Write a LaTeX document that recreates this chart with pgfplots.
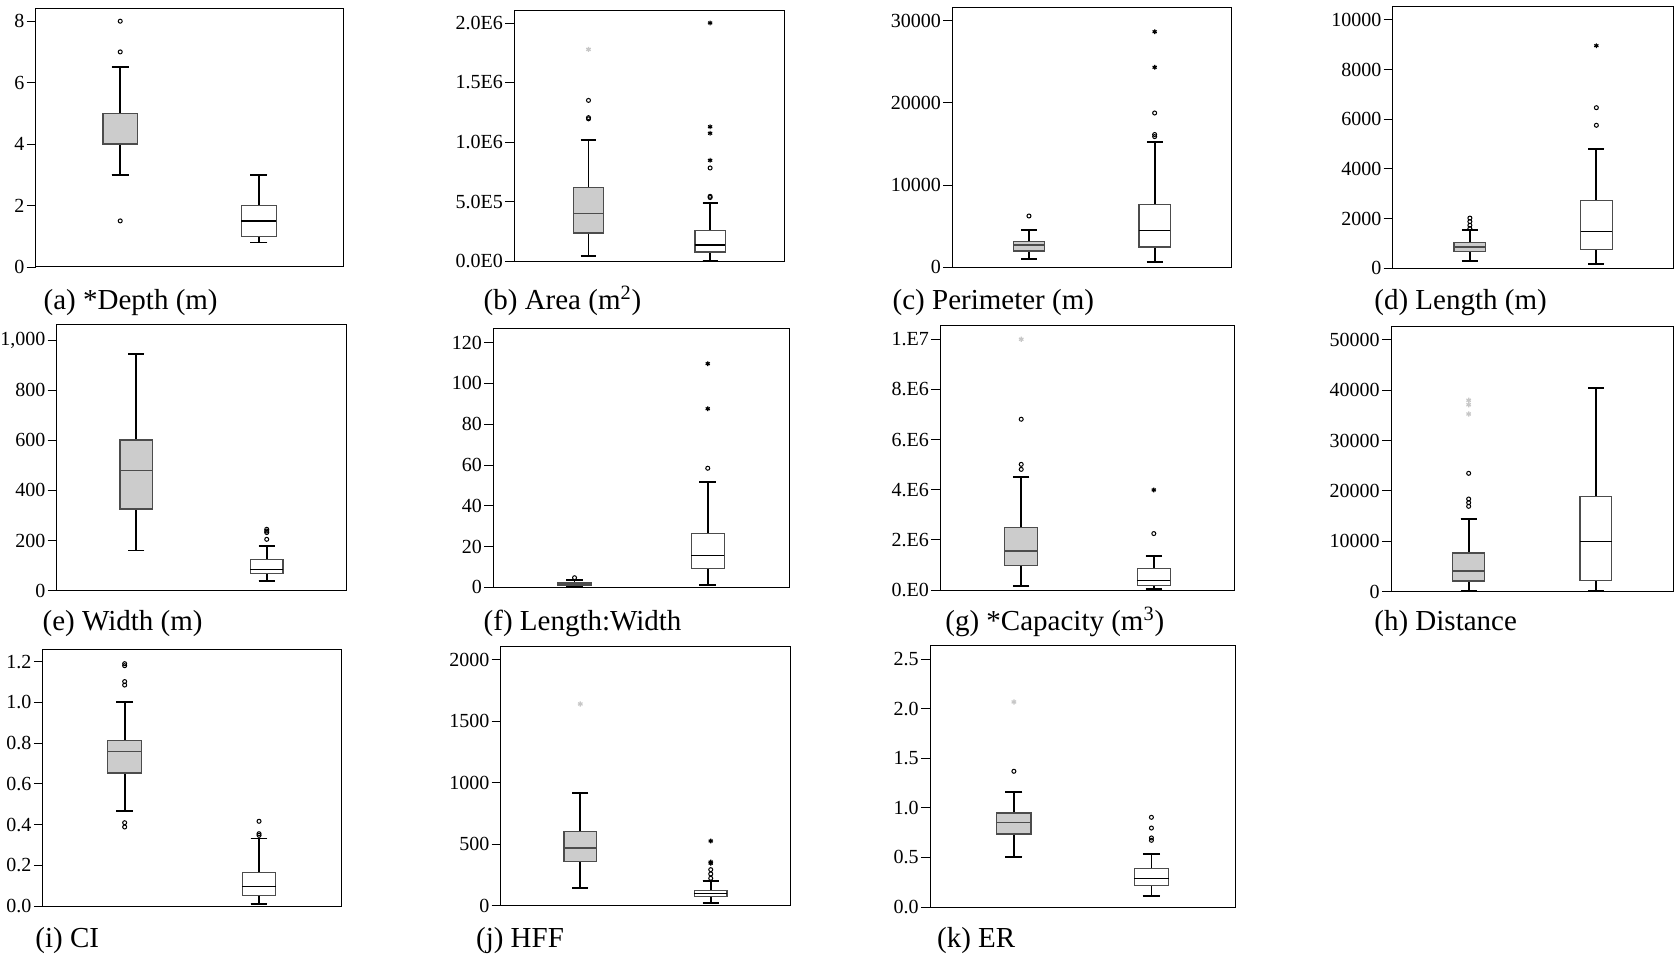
\documentclass[border=0pt]{standalone}
\usepackage{fontspec}
\setmainfont{Liberation Serif}
\usepackage{pgfplots}
\pgfplotsset{compat=1.18}
\usepgfplotslibrary{statistics}
\definecolor{boxgray}{gray}{0.8}
\definecolor{edgegray}{gray}{0.3}
\definecolor{lightstar}{gray}{0.78}
\pgfplotsset{
  bp/.style={
    scale only axis, anchor=south west, disabledatascaling,
    xmin=0.39, xmax=2.61, ymin=0,
    xtick=\empty, scaled y ticks=false,
    axis line style={line width=0.5pt},
    ytick pos=left, tick align=outside, major tick length=4.5pt,
    ytick style={line width=0.4pt, black},
    yticklabel style={font=\fontsize{10}{11}\selectfont, inner sep=1pt},
    boxplot/draw direction=y,
    boxplot/box extend=0.25, boxplot/whisker extend=0.125,
  },
  g1/.style={draw=edgegray, fill=boxgray, line width=0.6pt,
    boxplot/every whisker/.style={black, line width=0.9pt},
    boxplot/every median/.style={edgegray, line width=0.8pt},
    boxplot prepared={draw position=1, #1}},
  g2/.style={draw=edgegray, fill=white, line width=0.6pt,
    boxplot/every whisker/.style={black, line width=0.9pt},
    boxplot/every median/.style={black, line width=0.6pt},
    boxplot prepared={draw position=2, #1}},
  circ/.style={only marks, mark=o, mark size=1pt, black, mark options={line width=0.5pt}},
  star/.style={only marks, mark=asterisk, mark size=1.2pt, black, mark options={line width=0.6pt}},
  gstar/.style={only marks, mark=asterisk, mark size=1.3pt, lightstar, mark options={line width=0.6pt}},
}
\tikzset{plab/.style={anchor=base west, inner sep=0pt, font=\fontsize{14.5}{16}\selectfont}}
\begin{document}
\begin{tikzpicture}
\useasboundingbox (0,0) rectangle (837pt,479.5pt);

% (a)
\begin{axis}[bp, at={(17.85pt,346pt)}, width=153.8pt, height=129.35pt, ymax=8.42,
  ytick={0,2,4,6,8}, yticklabels={0,2,4,6,8}]
\addplot[g1={lower whisker=3, lower quartile=4, median=4, upper quartile=5, upper whisker=6.5}] coordinates {};
\addplot[g2={lower whisker=0.8, lower quartile=1, median=1.5, upper quartile=2, upper whisker=3}] coordinates {};
\addplot[circ] coordinates {(1,8) (1,7) (1,1.5)};
\end{axis}
\node[plab] at (21.65pt,324.5pt) {(a) *Depth (m)};

% (b)  values in millions of m^2
\begin{axis}[bp, at={(257.15pt,348.85pt)}, width=135pt, height=125.5pt, ymax=2.106,
  ytick={0,0.5,1,1.5,2}, yticklabels={0.0E0,5.0E5,1.0E6,1.5E6,2.0E6}]
\addplot[g1={lower whisker=0.047, lower quartile=0.237, median=0.400, upper quartile=0.618, upper whisker=1.018}] coordinates {};
\addplot[g2={lower whisker=0.005, lower quartile=0.078, median=0.137, upper quartile=0.257, upper whisker=0.487}] coordinates {};
\addplot[circ] coordinates {(1,1.350) (1,1.205) (1,1.195) (2,0.535) (2,0.545) (2,0.783)};
\addplot[star] coordinates {(2,0.847) (2,1.074) (2,1.129) (2,2.000)};
\addplot[gstar] coordinates {(1,1.778)};
\end{axis}
\node[plab] at (241.65pt,324.5pt) {(b) Area (m\textsuperscript{2})};

% (c)  values in thousands of m
\begin{axis}[bp, at={(476.15pt,345.85pt)}, width=139.5pt, height=130pt, ymax=31.63,
  ytick={0,10,20,30}, yticklabels={0,10000,20000,30000}]
\addplot[g1={lower whisker=0.970, lower quartile=1.980, median=2.680, upper quartile=3.110, upper whisker=4.570}] coordinates {};
\addplot[g2={lower whisker=0.680, lower quartile=2.470, median=4.500, upper quartile=7.660, upper whisker=15.240}] coordinates {};
\addplot[circ] coordinates {(1,6.240) (2,15.900) (2,16.150) (2,18.770)};
\addplot[star] coordinates {(2,24.330) (2,28.660)};
\end{axis}
\node[plab] at (446.15pt,324.5pt) {(c) Perimeter (m)};

% (d)  values in thousands of m
\begin{axis}[bp, at={(696.35pt,345.35pt)}, width=140.4pt, height=130.8pt, ymax=10.527,
  ytick={0,2,4,6,8,10}, yticklabels={0,2000,4000,6000,8000,10000}]
\addplot[g1={lower whisker=0.306, lower quartile=0.684, median=0.857, upper quartile=1.030, upper whisker=1.529}] coordinates {};
\addplot[g2={lower whisker=0.173, lower quartile=0.765, median=1.489, upper quartile=2.736, upper whisker=4.801}] coordinates {};
\addplot[circ] coordinates {(1,1.600) (1,1.730) (1,1.880) (1,2.020) (2,5.755) (2,6.463)};
\addplot[star] coordinates {(2,8.958)};
\end{axis}
\node[plab] at (687pt,324.5pt) {(d) Length (m)};

% (e)  values in hundreds of m
\begin{axis}[bp, at={(28.35pt,184.15pt)}, width=144.8pt, height=132.85pt, ymax=10.60,
  ytick={0,2,4,6,8,10}, yticklabels={0,200,400,600,800,{1,000}}]
\addplot[g1={lower whisker=1.60, lower quartile=3.26, median=4.79, upper quartile=6.01, upper whisker=9.45}] coordinates {};
\addplot[g2={lower whisker=0.39, lower quartile=0.69, median=0.83, upper quartile=1.24, upper whisker=1.78}] coordinates {};
\addplot[circ] coordinates {(2,2.05) (2,2.32) (2,2.38) (2,2.45)};
\end{axis}
\node[plab] at (21.15pt,164.25pt) {(e) Width (m)};

% (f)
\begin{axis}[bp, at={(246.65pt,185.85pt)}, width=147.85pt, height=129.15pt, ymax=126.7,
  ytick={0,20,40,60,80,100,120}, yticklabels={0,20,40,60,80,100,120}]
\addplot[g1={lower whisker=0.6, lower quartile=1.0, median=1.6, upper quartile=2.3, upper whisker=3.6}] coordinates {};
\addplot[g2={lower whisker=1.1, lower quartile=9.3, median=15.5, upper quartile=26.3, upper whisker=51.7}] coordinates {};
\addplot[circ] coordinates {(1,4.7) (2,58.4)};
\addplot[star] coordinates {(2,87.6) (2,109.7)};
\end{axis}
\node[plab] at (241.65pt,164.25pt) {(f) Length:Width};

% (g)  values in millions of m^3
\begin{axis}[bp, at={(470.15pt,184.5pt)}, width=147.2pt, height=132.15pt, ymax=10.54,
  ytick={0,2,4,6,8,10}, yticklabels={0.E0,2.E6,4.E6,6.E6,8.E6,1.E7}]
\addplot[g1={lower whisker=0.148, lower quartile=0.985, median=1.556, upper quartile=2.490, upper whisker=4.500}] coordinates {};
\addplot[g2={lower whisker=0.030, lower quartile=0.190, median=0.370, upper quartile=0.866, upper whisker=1.340}] coordinates {};
\addplot[circ] coordinates {(1,4.810) (1,5.010) (1,6.810) (2,2.250)};
\addplot[star] coordinates {(2,3.990)};
\addplot[gstar] coordinates {(1,10.000)};
\end{axis}
\node[plab] at (472.5pt,164.25pt) {(g) *Capacity (m\textsuperscript{3})};

% (h)  values in thousands
\begin{axis}[bp, at={(695.5pt,183.65pt)}, width=141.3pt, height=132.5pt, ymax=52.58,
  ytick={0,10,20,30,40,50}, yticklabels={0,10000,20000,30000,40000,50000}]
\addplot[g1={lower whisker=0.100, lower quartile=2.120, median=4.050, upper quartile=7.680, upper whisker=14.480}] coordinates {};
\addplot[g2={lower whisker=0.200, lower quartile=2.180, median=10.000, upper quartile=18.920, upper whisker=40.380}] coordinates {};
\addplot[circ] coordinates {(1,16.940) (1,17.660) (1,18.390) (1,23.490)};
\addplot[gstar] coordinates {(1,35.260) (1,37.100) (1,37.980)};
\end{axis}
\node[plab] at (687pt,164.25pt) {(h) Distance};

% (i)
\begin{axis}[bp, at={(21.35pt,26.5pt)}, width=149.15pt, height=128.5pt, ymax=1.262,
  ytick={0,0.2,0.4,0.6,0.8,1.0,1.2}, yticklabels={0.0,0.2,0.4,0.6,0.8,1.0,1.2}]
\addplot[g1={lower whisker=0.467, lower quartile=0.653, median=0.758, upper quartile=0.812, upper whisker=1.0}] coordinates {};
\addplot[g2={lower whisker=0.011, lower quartile=0.053, median=0.097, upper quartile=0.164, upper whisker=0.331}] coordinates {};
\addplot[circ] coordinates {(1,1.18) (1,1.19) (1,1.085) (1,1.102) (1,0.388) (1,0.409) (2,0.347) (2,0.355) (2,0.416)};
\end{axis}
\node[plab] at (17.5pt,6pt) {(i) CI};

% (j)  values in hundreds
\begin{axis}[bp, at={(250.35pt,26.65pt)}, width=144.8pt, height=129.85pt, ymax=21.11,
  ytick={0,5,10,15,20}, yticklabels={0,500,1000,1500,2000}]
\addplot[g1={lower whisker=1.46, lower quartile=3.58, median=4.69, upper quartile=6.02, upper whisker=9.14}] coordinates {};
\addplot[g2={lower whisker=0.20, lower quartile=0.73, median=1.01, upper quartile=1.25, upper whisker=2.01}] coordinates {};
\addplot[circ] coordinates {(2,2.23) (2,2.58) (2,2.93)};
\addplot[star] coordinates {(2,3.45) (2,3.55) (2,5.26)};
\addplot[gstar] coordinates {(1,16.40)};
\end{axis}
\node[plab] at (237.85pt,6pt) {(j) HFF};

% (k)
\begin{axis}[bp, at={(465pt,26pt)}, width=152.65pt, height=130.65pt, ymax=2.634,
  ytick={0,0.5,1.0,1.5,2.0,2.5}, yticklabels={0.0,0.5,1.0,1.5,2.0,2.5}]
\addplot[g1={lower whisker=0.507, lower quartile=0.736, median=0.85, upper quartile=0.948, upper whisker=1.156}] coordinates {};
\addplot[g2={lower whisker=0.111, lower quartile=0.215, median=0.289, upper quartile=0.386, upper whisker=0.534}] coordinates {};
\addplot[circ] coordinates {(1,1.368) (2,0.672) (2,0.696) (2,0.796) (2,0.904)};
\addplot[gstar] coordinates {(1,2.067)};
\end{axis}
\node[plab] at (468.35pt,6pt) {(k) ER};

\end{tikzpicture}
\end{document}
